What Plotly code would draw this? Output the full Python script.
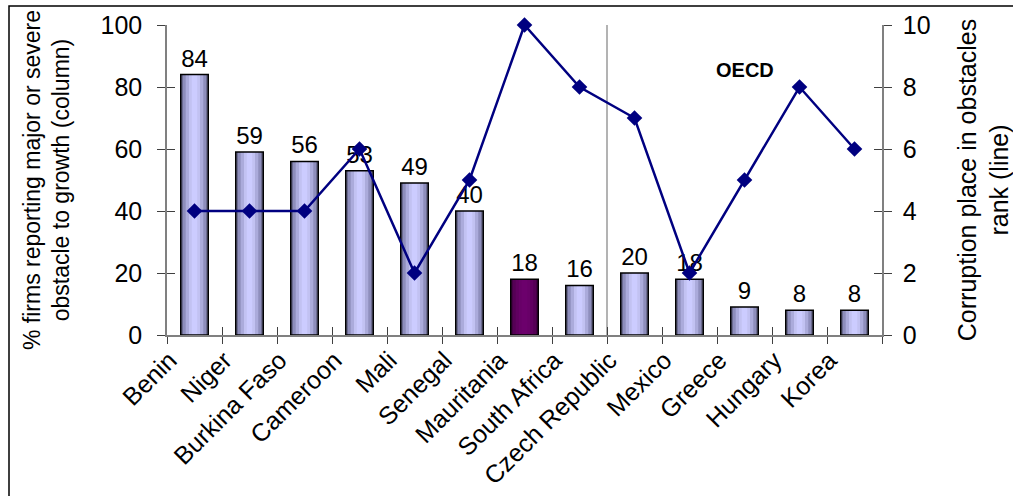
import plotly.graph_objects as go

categories = ["Benin", "Niger", "Burkina Faso", "Cameroon", "Mali", "Senegal",
              "Mauritania", "South Africa", "Czech Republic", "Mexico", "Greece",
              "Hungary", "Korea"]
pct_firms = [84, 59, 56, 53, 49, 40, 18, 16, 20, 18, 9, 8, 8]
corruption_rank = [4, 4, 4, 6, 2, 5, 10, 8, 7, 2, 5, 8, 6]
highlight = "Mauritania"

left_ticks = [0, 20, 40, 60, 80, 100]
right_ticks = [0, 2, 4, 6, 8, 10]

FONT = "Liberation Sans, Arial, sans-serif"
W, H = 1013, 496
ML, MR, MT, MB = 167, 131, 25, 161

# gradient layers (width, normal colour, highlight colour)
layers = [
    (0.50, "#6A6A8E", "#440044"),
    (0.42, "#8E8EBC", "#550055"),
    (0.32, "#ABABDB", "#600060"),
    (0.20, "#C2C2F2", "#680068"),
    (0.10, "#CCCCFF", "#6C006C"),
]

fig = go.Figure()
for w, c, hc in layers:
    fig.add_trace(go.Bar(
        x=categories, y=pct_firms, width=w,
        marker=dict(color=[hc if k == highlight else c for k in categories],
                    line=dict(width=0)),
        hoverinfo="skip", showlegend=False,
    ))
# outline + value labels
fig.add_trace(go.Bar(
    x=categories, y=pct_firms, width=0.5,
    marker=dict(color="rgba(0,0,0,0)", line=dict(color="black", width=1.5)),
    text=[str(v) for v in pct_firms], textposition="outside",
    textfont=dict(family=FONT, size=24, color="black"),
    cliponaxis=False, hoverinfo="skip", showlegend=False,
))
# line on right axis
fig.add_trace(go.Scatter(
    x=categories, y=corruption_rank, yaxis="y2", mode="lines+markers",
    line=dict(color="#000080", width=2.5),
    marker=dict(symbol="diamond", size=12, color="#000080"),
    cliponaxis=False, hoverinfo="skip", showlegend=False,
))
# helper traces for inside ("cross") tick marks
fig.add_trace(go.Scatter(x=categories, y=[None] * len(categories), xaxis="x2",
                         yaxis="y", showlegend=False, hoverinfo="skip"))
fig.add_trace(go.Scatter(x=categories, y=[None] * len(categories), xaxis="x",
                         yaxis="y3", showlegend=False, hoverinfo="skip"))
fig.add_trace(go.Scatter(x=categories, y=[None] * len(categories), xaxis="x",
                         yaxis="y4", showlegend=False, hoverinfo="skip"))

axis_font = dict(family=FONT, size=25, color="black")
cat_axis = dict(type="category", categoryorder="array", categoryarray=categories,
                range=[-0.5, len(categories) - 0.5], automargin=False)

fig.update_layout(
    width=W, height=H, autosize=False,
    margin=dict(l=ML, r=MR, t=MT, b=MB, pad=0),
    paper_bgcolor="white", plot_bgcolor="white",
    barmode="overlay", bargap=0.5,
    font=dict(family=FONT, color="black"),
    xaxis=dict(**cat_axis, tickson="boundaries", ticks="outside", ticklen=7,
               tickcolor="#404040", tickwidth=1.2,
               showline=True, linecolor="#808080", linewidth=1.5,
               showgrid=False, zeroline=False,
               tickangle=-45, tickfont=dict(family=FONT, size=25, color="black"),
               ticklabelshift=-25, ticklabelstandoff=-1),
    xaxis2=dict(**cat_axis, overlaying="x", tickson="boundaries", ticks="inside",
                ticklen=8, tickcolor="#404040", tickwidth=1.2,
                showticklabels=False, showline=False, showgrid=False,
                zeroline=False),
    yaxis=dict(range=[0, 100], tickvals=left_ticks, ticks="outside", ticklen=8,
               tickcolor="#404040", tickwidth=1.2, automargin=False,
               showline=True, linecolor="#808080", linewidth=1.5,
               showgrid=False, zeroline=False, tickfont=axis_font,
               ticklabelstandoff=10,
               title=dict(text="% firms reporting major or severe<br>obstacle to growth (column)",
                          font=dict(family=FONT, size=23, color="black"),
                          standoff=24)),
    yaxis2=dict(range=[0, 10], tickvals=right_ticks, overlaying="y", side="right",
                ticks="outside", ticklen=8, tickcolor="#404040", tickwidth=1.2,
                automargin=False,
                showline=True, linecolor="#808080", linewidth=1.5,
                showgrid=False, zeroline=False, tickfont=axis_font,
                ticklabelstandoff=6,
                title=dict(text="Corruption place in obstacles<br>rank (line)",
                           font=dict(family=FONT, size=25, color="black"),
                           standoff=38)),
    yaxis3=dict(range=[0, 100], tickvals=left_ticks, overlaying="y", side="left",
                ticks="inside", ticklen=8, tickcolor="#404040", tickwidth=1.2,
                automargin=False,
                showticklabels=False, showline=False, showgrid=False,
                zeroline=False),
    yaxis4=dict(range=[0, 10], tickvals=right_ticks, overlaying="y", side="right",
                ticks="inside", ticklen=8, tickcolor="#404040", tickwidth=1.2,
                automargin=False,
                showticklabels=False, showline=False, showgrid=False,
                zeroline=False),
    shapes=[
        # separator between non-OECD and OECD countries
        dict(type="line", xref="x", yref="paper", x0=7.5, x1=7.5, y0=0, y1=1,
             line=dict(color="#808080", width=1.2), layer="below"),
        # outer chart frame
        dict(type="rect", xref="paper", yref="paper",
             x0=(9 - ML) / (W - ML - MR), x1=1.3,
             y0=-0.8, y1=(H - MB - 6) / (H - MT - MB),
             line=dict(color="black", width=1.5), fillcolor="rgba(0,0,0,0)"),
    ],
    annotations=[
        dict(text="<b>OECD</b>", x="Greece", y=85.5, xref="x", yref="y",
             showarrow=False, font=dict(family=FONT, size=20, color="black")),
    ],
)

fig.write_html("out.html")
